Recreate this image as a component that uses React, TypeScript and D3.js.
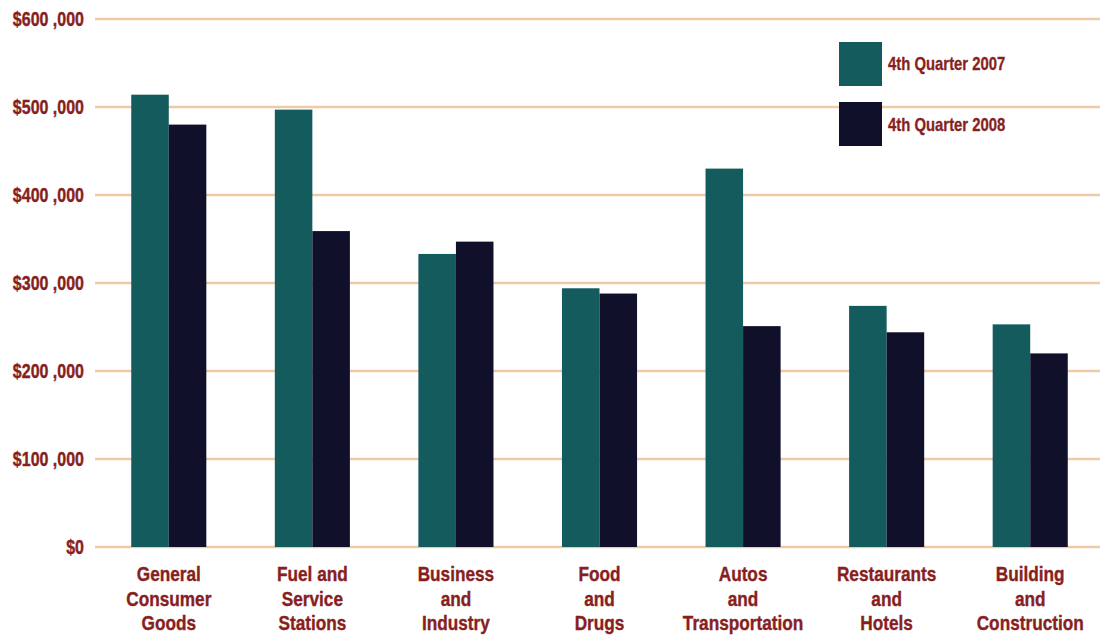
import React from "react";
import * as d3 from "d3";

const categories: string[][] = [
  ["General", "Consumer", "Goods"],
  ["Fuel and", "Service", "Stations"],
  ["Business", "and", "Industry"],
  ["Food", "and", "Drugs"],
  ["Autos", "and", "Transportation"],
  ["Restaurants", "and", "Hotels"],
  ["Building", "and", "Construction"],
];
const seriesNames = ["4th Quarter 2007", "4th Quarter 2008"];
const q2007 = [514000, 497000, 333000, 294000, 430000, 274000, 253000];
const q2008 = [480000, 359000, 347000, 288000, 251000, 244000, 220000];
const yTicks = [0, 100000, 200000, 300000, 400000, 500000, 600000];
const yTickLabels = ["$0", "$100 ,000", "$200 ,000", "$300 ,000", "$400 ,000", "$500 ,000", "$600 ,000"];

const W = 1107;
const H = 635;
const colors = ["#145b5e", "#10102a"];
const textColor = "#881f1f";
const gridColor = "#efcaa6";
const FONT = "'Liberation Sans', Arial, sans-serif";

export default function App() {
  const y = d3.scaleLinear().domain([0, 600000]).range([547, 19]);
  const x = d3
    .scaleBand<number>()
    .domain(d3.range(categories.length))
    .range([97, 1102])
    .paddingInner(0.477)
    .paddingOuter(0.2385);
  const sub = d3.scaleBand<number>().domain([0, 1]).range([0, x.bandwidth()]);
  const series = [q2007, q2008];

  return (
    <svg
      width={W}
      height={H}
      style={{ position: "absolute", left: 0, top: 0, background: "#ffffff" }}
    >
      {yTicks.map((t, i) => (
        <g key={"g" + i}>
          <line x1={95} x2={1100} y1={y(t)} y2={y(t)} stroke={gridColor} strokeWidth={2.6} />
          <g transform={`translate(84,${y(t) + 6.5}) scale(0.82,1)`}>
            <text
              textAnchor="end"
              fontFamily={FONT}
              fontWeight="bold"
              fontSize={19.5}
              fill={textColor}
              stroke={textColor}
              strokeWidth={0.4}
            >
              {yTickLabels[i]}
            </text>
          </g>
        </g>
      ))}
      {categories.map((c, i) => (
        <g key={"c" + i}>
          {series.map((s, j) => (
            <rect
              key={j}
              x={(x(i) as number) + (sub(j) as number)}
              y={y(s[i])}
              width={sub.bandwidth()}
              height={y(0) - y(s[i])}
              fill={colors[j]}
            />
          ))}
          {c.map((line, k) => (
            <g
              key={k}
              transform={`translate(${(x(i) as number) + x.bandwidth() / 2},${581 + k * 24.5}) scale(0.82,1)`}
            >
              <text
                textAnchor="middle"
                fontFamily={FONT}
                fontWeight="bold"
                fontSize={21}
                fill={textColor}
                stroke={textColor}
                strokeWidth={0.4}
              >
                {line}
              </text>
            </g>
          ))}
        </g>
      ))}
      {seriesNames.map((n, j) => (
        <g key={"l" + j}>
          <rect x={839} y={42 + j * 60} width={43} height={44} fill={colors[j]} />
          <g transform={`translate(888,${70 + j * 61}) scale(0.85,1)`}>
            <text
              fontFamily={FONT}
              fontWeight="bold"
              fontSize={17.5}
              fill={textColor}
              stroke={textColor}
              strokeWidth={0.3}
            >
              {n}
            </text>
          </g>
        </g>
      ))}
    </svg>
  );
}
